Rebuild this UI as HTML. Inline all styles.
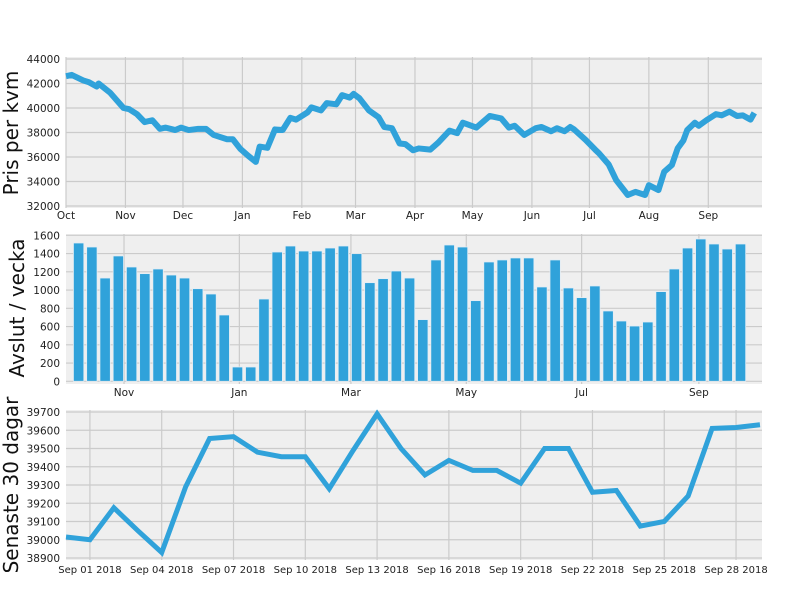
<!DOCTYPE html>
<html><head><meta charset="utf-8"><style>
body{margin:0;background:#fff;}
svg{display:block;font-family:"DejaVu Sans","Liberation Sans",sans-serif;}
</style></head><body>
<svg id="c" width="800" height="600"></svg>
<script>
// Top: price per sqm (day offset from Oct 1 2017, value)
const priceDays=[0,3,9,12,16,17,23,30,33,37,41,45,49,52,57,60,64,69,73,77,84,87,91,95,99,101,105,109,113,117,120,126,128,133,136,141,144,148,150,153,158,163,166,170,174,177,181,184,190,194,200,204,207,214,221,227,231,234,239,245,248,253,256,260,263,265,271,276,278,283,287,293,297,302,304,309,312,316,319,322,324,328,330,334,339,342,346,350,353,357,359];
const priceVals=[42600,42700,42250,42100,41750,42000,41250,40000,39900,39500,38850,39000,38300,38400,38200,38400,38200,38300,38300,37800,37450,37450,36650,36100,35600,36850,36750,38250,38200,39200,39050,39650,40050,39800,40400,40300,41050,40850,41150,40800,39800,39250,38450,38350,37100,37050,36550,36700,36600,37150,38150,37950,38800,38400,39350,39150,38400,38550,37800,38350,38450,38100,38350,38100,38450,38250,37400,36600,36300,35400,34100,32900,33150,32900,33700,33300,34800,35350,36700,37350,38200,38800,38550,39000,39500,39400,39700,39350,39400,39050,39600];
const priceTicks=[32000,34000,36000,38000,40000,42000,44000];
const monthLabels=["Oct","Nov","Dec","Jan","Feb","Mar","Apr","May","Jun","Jul","Aug","Sep"];
const monthDays=[0,31,61,92,123,151,182,212,243,273,304,335];
// Middle: deals per week
const weekVals=[1516,1472,1132,1374,1253,1180,1231,1165,1132,1015,957,727,157,157,902,1417,1483,1428,1428,1461,1483,1399,1081,1125,1209,1132,676,1330,1494,1472,884,1308,1330,1352,1352,1034,1330,1023,917,1045,771,661,606,650,983,1231,1461,1560,1505,1450,1505];
const barTicks=[0,200,400,600,800,1000,1200,1400,1600];
const barMonthLabels=["Nov","Jan","Mar","May","Jul","Sep"];
const barMonthDays=[31,92,151,212,273,335];
// Bottom: last 30 days (day 0 = Aug 31 2018)
const recentVals=[39015,39000,39175,39050,38930,39290,39555,39565,39480,39455,39455,39280,39490,39690,39500,39355,39435,39380,39380,39310,39500,39500,39260,39270,39075,39100,39240,39610,39615,39630];
const recentTicks=[38900,39000,39100,39200,39300,39400,39500,39600,39700];
const recentLabels=["Sep 01 2018","Sep 04 2018","Sep 07 2018","Sep 10 2018","Sep 13 2018","Sep 16 2018","Sep 19 2018","Sep 22 2018","Sep 25 2018","Sep 28 2018"];
const recentLabelDays=[1,4,7,10,13,16,19,22,25,28];

const NS="http://www.w3.org/2000/svg";
const svg=document.getElementById('c');
function mk(t,a,p){const e=document.createElementNS(NS,t);for(const k in a)e.setAttribute(k,a[k]);(p||svg).appendChild(e);return e;}
function lin(d0,d1,r0,r1){return v=>r0+(v-d0)/(d1-d0)*(r1-r0);}
const BLUE="#30a2da",GRID="#cbcbcb",BG="#efefef";

function panel(name,x0,y0,x1,y1){const g=mk('g',{});
 const r=mk('rect',{x:x0,y:y0,width:x1-x0,height:y1-y0,fill:BG},g);return g;}
function yTicks(g,ticks,sy,x0,x1,name){ticks.forEach(t=>{const y=sy(t);
 mk('line',{x1:x0,x2:x1,y1:y,y2:y,stroke:GRID,'stroke-width':1.2},g);
 const tx=mk('text',{x:x0-6,y:y+4,'text-anchor':'end','font-size':10.5,fill:'#222'},g);tx.textContent=t;
 });}
function xTicks(g,days,labels,sx,y0,y1,ly,name,fs){days.forEach((d,i)=>{const x=sx(d);
 mk('line',{x1:x,x2:x,y1:y0,y2:y1,stroke:GRID,'stroke-width':1.2},g);
 const tx=mk('text',{x:x,y:ly,'text-anchor':'middle','font-size':fs,fill:'#222'},g);tx.textContent=labels[i];
 });}
function title(txt,x,y,name){const t=mk('text',{x:x,y:y,'text-anchor':'middle','font-size':20,fill:'#111',transform:`rotate(-90 ${x} ${y})`});t.textContent=txt;}

// Top
{const g=panel('price-panel',66,57,762,208);
 const sx=lin(0,363,66,762),sy=lin(32000,44000,206,59);
 yTicks(g,priceTicks,sy,66,762,'price-y');
 xTicks(g,monthDays,monthLabels,sx,57,208,219,'price-x',10.5);
 const p=mk('polyline',{points:priceDays.map((d,i)=>sx(d)+','+sy(priceVals[i])).join(' '),fill:'none',stroke:BLUE,'stroke-width':6,'stroke-linejoin':'round'},g);
 
 title('Pris per kvm',18,133,'price-y-axis-title');}
// Middle
{const g=panel('deals-panel',66,234,762,384);
 const sx=lin(0,100,65.4,65.4+189.1),sy=lin(0,1600,381.3,235.3);
 yTicks(g,barTicks,sy,66,762,'deals-y');
 xTicks(g,barMonthDays,barMonthLabels,sx,234,384,396,'deals-x',10.5);
 weekVals.forEach((v,i)=>{const cx=sx(7+7*i);const b=mk('rect',{x:cx-5.2,y:sy(v),width:10.4,height:sy(0)-sy(v),fill:BLUE,stroke:'#e4eef5','stroke-width':0.8},g);
  });
 title('Avslut / vecka',24,308,'deals-y-axis-title');}
// Bottom
{const g=panel('recent-panel',66,410,762,560);
 const sx=lin(0,1,66,89.93),sy=lin(38900,39700,558,412);
 yTicks(g,recentTicks,sy,66,762,'recent-y');
 xTicks(g,recentLabelDays,recentLabels,sx,410,560,573,'recent-x',10);
 const p=mk('polyline',{points:recentVals.map((v,i)=>sx(i)+','+sy(v)).join(' '),fill:'none',stroke:BLUE,'stroke-width':5,'stroke-linejoin':'miter'},g);
 
 title('Senaste 30 dagar',18,485,'recent-y-axis-title');}
</script>
</body></html>
